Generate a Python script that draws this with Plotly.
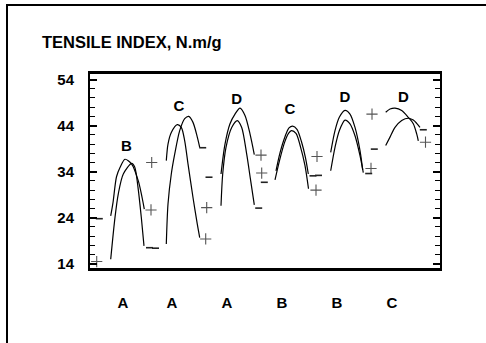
import plotly.graph_objects as go

# ---- data -------------------------------------------------------------
# x is a position along the panel (0-35), y is tensile index in N.m/g
cat_pos = [3.3, 8.2, 13.7, 19.2, 24.7, 30.2]
cat_labels = ["A", "A", "A", "B", "B", "C"]

peak_letters = ["B", "C", "D", "C", "D", "D"]
peak_letter_x = [3.65, 8.9, 14.67, 20.0, 25.5, 31.33]
peak_letter_y = [39.4, 48.0, 49.5, 47.3, 49.9, 49.9]

# pair 1
p1a_x = [2.07, 2.3, 2.65, 3.0, 3.5, 4.15, 4.83, 5.43]
p1a_y = [24.4, 27.3, 32.9, 34.9, 36.7, 35.7, 32.0, 25.9]
p1b_x = [2.07, 2.5, 2.83, 3.33, 4.17, 4.47, 4.8, 5.13, 5.4]
p1b_y = [15.0, 24.1, 29.2, 33.5, 35.8, 35.0, 30.6, 24.1, 17.9]

# pair 2
p2a_x = [7.63, 7.8, 8.13, 8.73, 9.13, 9.47, 9.8, 10.3, 10.73, 10.97]
p2a_y = [36.4, 40.0, 42.5, 44.2, 43.6, 40.7, 35.7, 28.4, 22.6, 19.7]
p2b_x = [7.63, 7.8, 8.13, 8.47, 8.97, 9.47, 9.87, 10.3, 10.73, 10.97]
p2b_y = [18.3, 27.0, 33.5, 37.8, 42.9, 45.5, 46.0, 44.7, 41.5, 39.3]

# pair 3
p3a_x = [13.1, 13.5, 14.0, 14.5, 15.0, 15.5, 16.0, 16.43]
p3a_y = [33.5, 40.0, 44.4, 46.5, 47.8, 46.2, 42.2, 37.7]
p3b_x = [13.1, 13.27, 13.6, 14.17, 14.73, 15.17, 15.67, 16.07, 16.43]
p3b_y = [26.6, 33.5, 39.3, 43.6, 45.1, 43.6, 37.8, 32.0, 26.8]

# pair 4
p4a_x = [18.6, 19.0, 19.5, 19.9, 20.27, 20.7, 21.15, 21.55, 21.83]
p4a_y = [34.2, 38.1, 41.6, 43.5, 43.9, 43.2, 40.5, 37.0, 33.5]
p4b_x = [18.5, 18.95, 19.45, 19.85, 20.15, 20.6, 21.05, 21.5, 21.85]
p4b_y = [32.2, 36.4, 40.3, 42.3, 42.9, 42.3, 39.4, 35.3, 30.3]

# pair 5
p5a_x = [24.07, 24.5, 24.93, 25.5, 26.0, 26.5, 27.0, 27.27]
p5a_y = [38.2, 42.9, 45.8, 47.3, 46.5, 43.6, 38.6, 34.4]
p5b_x = [24.07, 24.5, 24.93, 25.5, 26.0, 26.5, 27.0, 27.33]
p5b_y = [34.2, 39.3, 42.9, 45.2, 44.4, 41.8, 37.5, 33.8]

# pair 6
p6a_x = [29.57, 30.0, 30.5, 31.17, 31.83, 32.33, 32.67, 32.83]
p6a_y = [46.9, 47.6, 47.8, 47.3, 45.8, 44.4, 42.2, 40.7]
p6b_x = [29.57, 30.0, 30.5, 31.17, 31.83, 32.33, 32.67, 33.0]
p6b_y = [39.7, 41.5, 43.6, 45.1, 45.6, 45.2, 44.5, 43.6]

# single readings
plus_x = [0.67, 6.17, 6.1, 11.67, 11.57, 17.1, 17.17, 22.7, 22.6, 28.2, 28.1, 33.55]
plus_y = [14.5, 36.0, 25.7, 26.2, 19.4, 37.6, 33.7, 37.3, 30.0, 46.5, 34.7, 40.4]
minus_x = [0.93, 5.95, 6.55, 11.27, 11.9, 17.43, 16.87, 22.3, 22.85, 28.43, 27.87, 33.33]
minus_y = [23.8, 17.5, 17.4, 39.2, 32.8, 31.7, 26.1, 33.1, 33.2, 38.9, 33.6, 43.1]

y_ticks = [14, 24, 34, 44, 54]

# ---- figure -----------------------------------------------------------
FONT = "Liberation Sans, Arial, sans-serif"
fig = go.Figure()

arcs = [(p1a_x, p1a_y), (p1b_x, p1b_y), (p2a_x, p2a_y), (p2b_x, p2b_y),
        (p3a_x, p3a_y), (p3b_x, p3b_y), (p4a_x, p4a_y), (p4b_x, p4b_y),
        (p5a_x, p5a_y), (p5b_x, p5b_y), (p6a_x, p6a_y), (p6b_x, p6b_y)]
for ax, ay in arcs:
    fig.add_trace(go.Scatter(
        x=ax, y=ay, mode="lines",
        line=dict(color="black", width=1.2, shape="spline", smoothing=0.8),
        hoverinfo="skip", showlegend=False))

fig.add_trace(go.Scatter(
    x=plus_x, y=plus_y, mode="markers",
    marker=dict(symbol="cross-thin", size=8, line=dict(color="#555555", width=1.1)),
    showlegend=False))
fig.add_trace(go.Scatter(
    x=minus_x, y=minus_y, mode="markers",
    marker=dict(symbol="line-ew", size=5, line=dict(color="#222222", width=1.6)),
    showlegend=False))

fig.add_trace(go.Scatter(
    x=peak_letter_x, y=peak_letter_y, mode="text",
    text=["<b>%s</b>" % s for s in peak_letters],
    textfont=dict(family=FONT, size=15, color="black"),
    showlegend=False))

fig.update_layout(
    width=486, height=343,
    margin=dict(l=90, r=46, t=74, b=75),
    paper_bgcolor="white", plot_bgcolor="white",
    title=dict(text="<b>TENSILE INDEX, N.m/g</b>",
               font=dict(family=FONT, size=16.5, color="black"),
               x=42 / 486, xanchor="left", y=1 - 42 / 343, yanchor="middle"),
    font=dict(family=FONT, color="black"),
    shapes=[dict(type="rect", xref="paper", yref="paper",
                 x0=(7 - 90) / 350, x1=1.3, y0=-0.6, y1=1 + (74 - 5) / 194,
                 line=dict(color="black", width=2), layer="below")],
)

fig.update_xaxes(
    range=[0, 35], showgrid=False, zeroline=False,
    showline=True, linecolor="black", linewidth=3, mirror=True,
    tickmode="array", tickvals=cat_pos,
    ticktext=["<b>%s</b>" % s for s in cat_labels],
    ticks="", ticklabelstandoff=19,
    tickfont=dict(family=FONT, size=15, color="black"))

fig.update_yaxes(
    range=[13.1, 55.2], showgrid=False, zeroline=False,
    showline=True, linecolor="black", linewidth=2, mirror="allticks",
    tickmode="array", tickvals=y_ticks,
    ticktext=["<b>%d</b>" % v for v in y_ticks],
    ticks="inside", ticklen=7, tickwidth=1.5, tickcolor="black",
    minor=dict(ticks="inside", dtick=2, tick0=14, ticklen=5, tickwidth=1, tickcolor="black"),
    ticklabelstandoff=11,
    tickfont=dict(family=FONT, size=15, color="black"))

fig.write_html("out.html")
